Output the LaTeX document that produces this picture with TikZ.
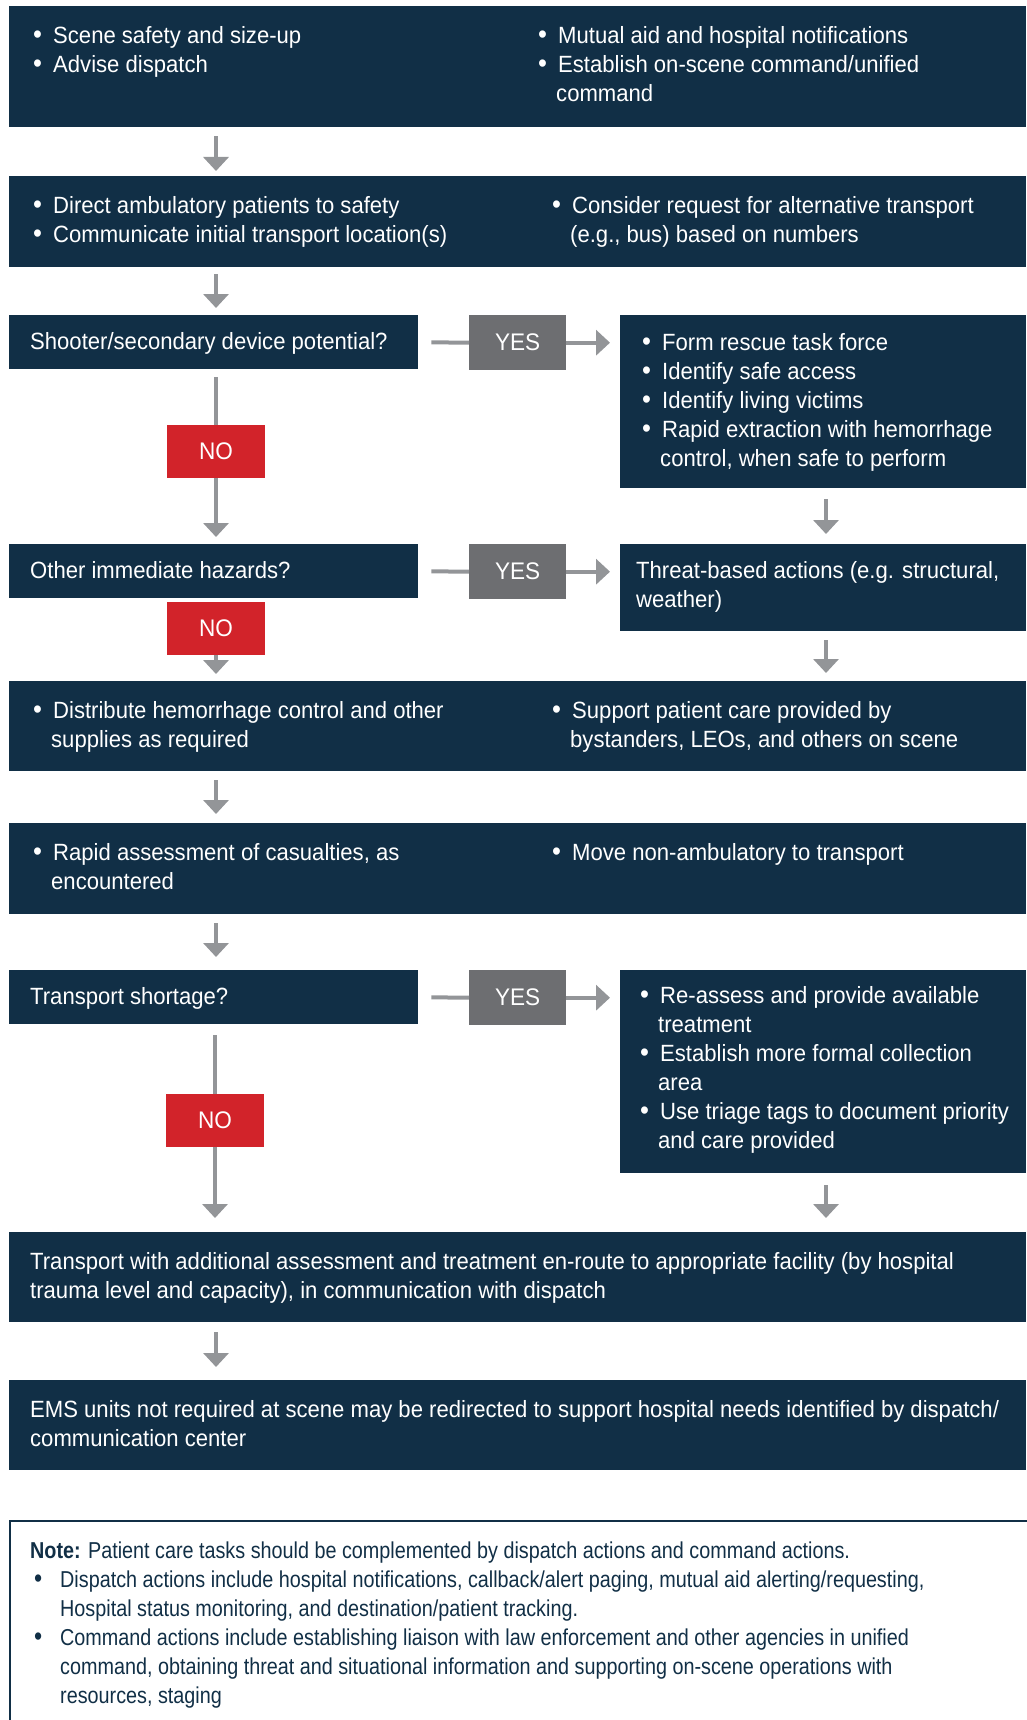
\documentclass[tikz,border=0pt]{standalone}
\usepackage{fontspec}
\setmainfont[FakeStretch=0.94]{Liberation Sans}
\newfontfamily\notef[FakeStretch=0.86]{Liberation Sans}
\usetikzlibrary{arrows.meta}
\definecolor{navy}{HTML}{112F46}
\definecolor{yesgray}{HTML}{6D6E71}
\definecolor{nored}{HTML}{D2232A}
\definecolor{arrgray}{HTML}{939598}
\newcommand{\mainf}{\fontsize{23.5}{29}\selectfont}
\newcommand{\bu}{\makebox[20pt][l]{\raisebox{-0.5pt}{\fontsize{27}{29}\selectfont •}}}
\newcommand{\ind}{\hspace*{18pt}}
\begin{document}
\begin{tikzpicture}[x=1pt,y=-1pt,
  box/.style={fill=navy, draw=none, inner sep=0pt, anchor=north west},
  txt/.style={anchor=north west, inner sep=0pt, align=left, font=\mainf, text=white},
  yesbox/.style={fill=yesgray, inner sep=0pt, anchor=north west, minimum width=97pt, minimum height=55pt, text=white, font=\fontsize{24}{29}\selectfont},
  nobox/.style={fill=nored, inner sep=0pt, anchor=north, minimum width=98pt, minimum height=53pt, text=white, font=\fontsize{24}{29}\selectfont},
  conn/.style={draw=arrgray, line width=4pt},
  arr/.style={conn, -{Triangle[width=25pt,length=14pt]}}
]
\useasboundingbox (0,0) rectangle (1026,1720);
\coordinate (colL) at (216,0);
\coordinate (colR) at (826,0);

% boxes
\node[box, minimum width=1017pt, minimum height=121pt] (b1) at (9,6) {};
\node[box, minimum width=1017pt, minimum height=91pt] (b2) at (9,176) {};
\node[box, minimum width=409pt, minimum height=54pt] (q1) at (9,315) {};
\node[yesbox] (y1) at (469,315) {YES};
\node[box, minimum width=406pt, minimum height=173pt] (r1) at (620,315) {};
\node[nobox] (n1) at (216,425) {NO};
\node[box, minimum width=409pt, minimum height=54pt] (q2) at (9,544) {};
\node[yesbox] (y2) at (469,544) {YES};
\node[box, minimum width=406pt, minimum height=87pt] (r2) at (620,544) {};
\node[nobox] (n2) at (216,602) {NO};
\node[box, minimum width=1017pt, minimum height=90pt] (b3) at (9,681) {};
\node[box, minimum width=1017pt, minimum height=91pt] (b4) at (9,823) {};
\node[box, minimum width=409pt, minimum height=54pt] (q3) at (9,970) {};
\node[yesbox] (y3) at (469,970) {YES};
\node[box, minimum width=406pt, minimum height=203pt] (r3) at (620,970) {};
\node[nobox] (n3) at (215,1094) {NO};
\node[box, minimum width=1017pt, minimum height=90pt] (b5) at (9,1232) {};
\node[box, minimum width=1017pt, minimum height=90pt] (b6) at (9,1380) {};
\node[draw=navy, line width=2pt, inner sep=0pt, anchor=north west, minimum width=1040pt, minimum height=230pt] (note) at (9,1520) {};

% texts
\node[txt] (t1a) at (33,22.7) {\strut\bu Scene safety and size-up\\\bu Advise dispatch};
\node[txt] (t1b) at (538,22.7) {\strut\bu Mutual aid and hospital notifications\\\bu Establish on-scene command/unified\\\ind command};
\node[txt] (t2a) at (33,192.7) {\strut\bu Direct ambulatory patients to safety\\\bu Communicate initial transport location(s)};
\node[txt] (t2b) at (552,192.7) {\strut\bu Consider request for alternative transport\\\ind (e.g., bus) based on numbers};
\node[txt] (tq1) at (30,328.7) {\strut Shooter/secondary device potential?};
\node[txt] (tr1) at (642,329.7) {\strut\bu Form rescue task force\\\bu Identify safe access\\\bu Identify living victims\\\bu Rapid extraction with hemorrhage\\\ind control, when safe to perform};
\node[txt] (tq2) at (30,557.7) {\strut Other immediate hazards?};
\node[txt] (tr2) at (636,557.7) {\strut Threat-based actions (e.g. structural,\\weather)};
\node[txt] (t3a) at (33,697.7) {\strut\bu Distribute hemorrhage control and other\\\ind supplies as required};
\node[txt] (t3b) at (552,697.7) {\strut\bu Support patient care provided by\\\ind bystanders, LEOs, and others on scene};
\node[txt] (t4a) at (33,839.7) {\strut\bu Rapid assessment of casualties, as\\\ind encountered};
\node[txt] (t4b) at (552,839.7) {\strut\bu Move non-ambulatory to transport};
\node[txt] (tq3) at (30,983.7) {\strut Transport shortage?};
\node[txt] (tr3) at (640,982.7) {\strut\bu Re-assess and provide available\\\ind treatment\\\bu Establish more formal collection\\\ind area\\\bu Use triage tags to document priority\\\ind and care provided};
\node[txt] (t5) at (30,1248.7) {\strut Transport with additional assessment and treatment en-route to appropriate facility (by hospital\\trauma level and capacity), in communication with dispatch};
\node[txt] (t6) at (30,1396.7) {\strut EMS units not required at scene may be redirected to support hospital needs identified by dispatch/\\communication center};
\node[txt, text=navy, font=\notef\fontsize{23}{29}\selectfont] (tn) at (30,1537.7) {\strut\textbf{Note:} Patient care tasks should be complemented by dispatch actions and command actions.\\
\hspace*{4pt}\makebox[26pt][l]{\fontsize{27}{29}\selectfont •}Dispatch actions include hospital notifications, callback/alert paging, mutual aid alerting/requesting,\\
\hspace*{30pt}Hospital status monitoring, and destination/patient tracking.\\
\hspace*{4pt}\makebox[26pt][l]{\fontsize{27}{29}\selectfont •}Command actions include establishing liaison with law enforcement and other agencies in unified\\
\hspace*{30pt}command, obtaining threat and situational information and supporting on-scene operations with\\
\hspace*{30pt}resources, staging};

% connectors
\draw[arr, shorten <=9pt, shorten >=5pt] (b1.south -| colL) -- (b2.north -| colL);
\draw[arr, shorten <=7pt, shorten >=7pt] (b2.south -| colL) -- (q1.north -| colL);
\draw[conn, shorten <=13pt] (q1.east) -- (y1.west);
\draw[arr, shorten >=10pt] (y1.east) -- (r1.west |- y1.east);
\draw[conn, shorten <=8pt] (q1.south -| n1.north) -- (n1.north);
\draw[arr, shorten >=7pt] (n1.south) -- (q2.north -| n1.south);
\draw[arr, shorten <=11pt, shorten >=10pt] (r1.south -| colR) -- (r2.north -| colR);
\draw[conn, shorten <=13pt] (q2.east) -- (y2.west);
\draw[arr, shorten >=10pt] (y2.east) -- (r2.west |- y2.east);
\draw[arr, shorten >=7pt] (n2.south) -- (b3.north -| n2.south);
\draw[arr, shorten <=9pt, shorten >=8pt] (r2.south -| colR) -- (b3.north -| colR);
\draw[arr, shorten <=9pt, shorten >=9pt] (b3.south -| colL) -- (b4.north -| colL);
\draw[arr, shorten <=9pt, shorten >=13pt] (b4.south -| colL) -- (q3.north -| colL);
\draw[conn, shorten <=13pt] (q3.east) -- (y3.west);
\draw[arr, shorten >=10pt] (y3.east) -- (r3.west |- y3.east);
\draw[conn, shorten <=11pt] (q3.south -| n3.north) -- (n3.north);
\draw[arr, shorten >=14pt] (n3.south) -- (b5.north -| n3.south);
\draw[arr, shorten <=12pt, shorten >=14pt] (r3.south -| colR) -- (b5.north -| colR);
\draw[arr, shorten <=10pt, shorten >=13pt] (b5.south -| colL) -- (b6.north -| colL);
\end{tikzpicture}
\end{document}
